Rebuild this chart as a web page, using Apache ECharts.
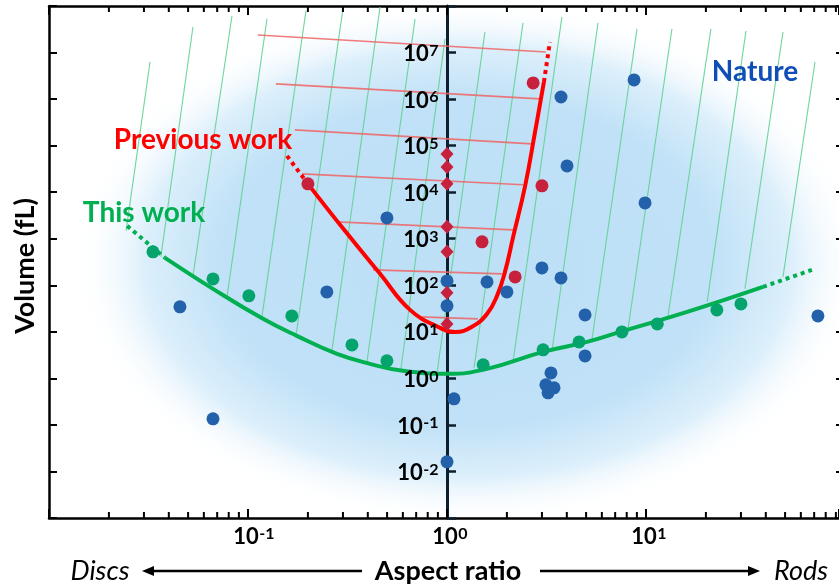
<!DOCTYPE html>
<html><head><meta charset="utf-8">
<script src="https://cdn.jsdelivr.net/npm/echarts@6/dist/echarts.min.js"></script>
<style>html,body{margin:0;padding:0;background:#fff}#c{width:839px;height:586px}</style>
</head><body><div id="c"></div>
<script>
// ---------- data (aspect ratio, volume fL) ----------
const natureX = [0.0455, 0.0667, 0.249, 0.499, 1.0, 1.0, 1.0, 1.084, 1.589, 2.0, 3.0, 3.74, 3.74, 4.01, 8.71, 9.89, 4.94, 4.94, 3.33, 3.14, 3.45, 3.22, 73.1];
const natureY = [34.4, 0.135, 72.1, 2805, 124, 36.1, 0.0161, 0.363, 118, 72.1, 236, 144, 1.11e6, 3.67e4, 2.58e6, 5890, 23.1, 3.04, 1.31, 0.725, 0.625, 0.489, 22.0];

const prevDotX = [0.200, 1.50, 2.20, 3.0, 2.71];
const prevDotY = [1.51e4, 856, 151, 1.37e4, 2.23e6];
const prevDiamondX = [1, 1, 1, 1, 1, 1, 1];
const prevDiamondY = [6.65e4, 3.49e4, 1.51e4, 1800, 522, 68.7, 14.8];

const thisX = [0.0333, 0.0667, 0.101, 0.166, 0.333, 0.499, 1.52, 3.04, 4.61, 7.57, 11.4, 22.7, 30.0];
const thisY = [522, 137, 59.2, 22.0, 5.24, 2.38, 1.95, 4.10, 6.08, 9.97, 14.8, 29.6, 39.8];

const thisCurveX = [0.0383, 0.0667, 0.119, 0.176, 0.280, 0.410, 0.601, 1.01, 1.59, 3.04, 5.05, 7.40, 16.1, 38.7];
const thisCurveY = [388, 83.7, 19.0, 8.19, 3.36, 2.05, 1.45, 1.25, 1.60, 3.71, 6.08, 9.97, 26.8, 92.4];
const thisDotLX = [0.0247, 0.0383], thisDotLY = [1888, 388];
const thisDotRX = [38.7, 68.2], thisDotRY = [92.4, 214];

const prevCurveX = [0.200, 0.307, 0.461, 0.652, 0.922, 1.097, 1.336, 1.589, 1.784, 1.956, 2.15, 2.47, 2.77, 3.07];
const prevCurveY = [1.51e4, 1475, 176, 29.6, 12.2, 9.97, 12.8, 24.3, 59.2, 194, 1096, 1.37e4, 1.97e5, 2.34e6];
const prevDotLX = [0.157, 0.195], prevDotLY = [6.03e4, 1.75e4];
const prevDotTX = [3.07, 3.29], prevDotTY = [2.34e6, 1.69e7];

const redLineX0 = [0.112, 0.138, 0.172, 0.187, 0.280, 0.425, 0.731];
const redLineY0 = [2.39e7, 2.12e6, 2.18e5, 2.47e4, 2300, 214, 20.9];
const redLineX1 = [3.14, 2.93, 2.67, 2.41, 2.15, 1.89, 1.43];
const redLineY1 = [1.03e7, 1.01e6, 1.09e5, 1.44e4, 1549, 176, 19.0];

const hatchX0 = [0.0244, 0.0365, 0.0529, 0.0784, 0.1175, 0.1742, 0.264, 0.396, 0.587, 0.891, 1.367, 2.15, 3.37, 5.35, 8.12, 12.9, 20.3, 31.4, 48.8];
const hatchY0 = [1475, 408, 159, 56.4, 20.9, 8.19, 3.90, 2.26, 1.60, 1.31, 1.68, 2.38, 3.90, 6.71, 11.6, 22.0, 44.0, 83.7, 151];
const hatchX1 = [0.0322, 0.0529, 0.0831, 0.1246, 0.1956, 0.300, 0.461, 0.691, 0.977, 1.552, 2.41, 3.78, 5.74, 9.01, 13.5, 21.2, 31.8, 48.8, 70.7];
const hatchY1 = [6.30e6, 3.56e7, 6.13e7, 5.28e7, 7.85e7, 8.67e7, 9.57e7, 5.28e7, 1.96e7, 2.78e7, 4.33e7, 5.83e7, 4.33e7, 3.22e7, 3.22e7, 3.22e7, 2.92e7, 2.78e7, 6.30e6];

// axis ranges and tick labels (the right edge of the picture cuts the axis at ~93)
const xMin = 0.01, xMax = 93.3, yMin = 0.001, yMax = 1e8;
const xMinorTicks = [0.02,0.03,0.04,0.05,0.06,0.07,0.08,0.09,0.2,0.3,0.4,0.5,0.6,0.7,0.8,0.9,2,3,4,5,6,7,8,9,20,30,40,50,60,70,80,90];
const xTickLabels = [0.1, 1, 10];
const yTickLabels = [1e-2, 1e-1, 1, 10, 1e2, 1e3, 1e4, 1e5, 1e6, 1e7];

// ---------- helpers ----------
const zip = (xs, ys) => xs.map((x, i) => [x, ys[i]]);
const segs = (x0, y0, x1, y1) => x0.map((x, i) => ({coords: [[x, y0[i]], [x1[i], y1[i]]]}));
const FONT = 'Lato, "Open Sans", sans-serif';
const BASE_FONT = 'bold 22px Lato';
const SUP_FONT = 'bold 16px Lato';
const mctx = document.createElement('canvas').getContext('2d');
const measure = (t, f) => { mctx.font = f; return mctx.measureText(t).width; };
const expOf = v => String(Math.round(Math.log10(v)));
const border = {show: true, lineStyle: {color: '#000', width: 2.5}};

function labelTexts(cx, cy, v, mode) {
  const e = expOf(v);
  const wb = measure('10', BASE_FONT), ws = measure(e, SUP_FONT);
  let x0, yb, ys;
  if (mode === 'x') { x0 = cx - wb / 2 - 2; yb = cy + 19; ys = cy + 8; }
  else { x0 = cx - 9 - wb - ws; yb = cy + 1.5; ys = cy - 10; }
  return [
    {type: 'text', x: x0, y: yb, style: {text: '10', font: BASE_FONT, fill: '#000', textAlign: 'left', textVerticalAlign: 'middle'}},
    {type: 'text', x: x0 + wb + 0.5, y: ys, style: {text: e, font: SUP_FONT, fill: '#000', textAlign: 'left', textVerticalAlign: 'top'}}
  ];
}

const chart = echarts.init(document.getElementById('c'), null, {renderer: 'canvas'});
const option = {
  animation: false,
  backgroundColor: '#fff',
  grid: {left: 49, top: 6, right: 0, height: 512, containLabel: false},
  xAxis: [
    {type: 'log', logBase: 10, min: xMin, max: xMax, interval: 1, position: 'bottom', z: 0,
     axisLine: border, axisTick: {inside: true, length: 9, lineStyle: {color: '#000', width: 2}},
     axisLabel: {show: false}, splitLine: {show: false}, minorTick: {show: false}},
    {type: 'log', logBase: 10, min: xMin, max: xMax, interval: 1, position: 'top', z: 0,
     axisLine: border, axisTick: {inside: true, length: 9, lineStyle: {color: '#000', width: 2}},
     axisLabel: {show: false}, splitLine: {show: false}}
  ],
  yAxis: [
    {type: 'log', logBase: 10, min: yMin, max: yMax, interval: 1, position: 'left', z: 0,
     axisLine: border, axisTick: {inside: true, length: 8, lineStyle: {color: '#000', width: 2}},
     axisLabel: {show: false}, splitLine: {show: false}},
    {type: 'log', logBase: 10, min: yMin, max: yMax, interval: 1, position: 'right', z: 0,
     axisLine: {show: false}, axisTick: {inside: true, length: 3, lineStyle: {color: '#000', width: 2}},
     axisLabel: {show: false}, splitLine: {show: false}},
    {type: 'log', logBase: 10, min: yMin, max: yMax, interval: 1, position: 'left', offset: -398, z: 0,
     axisLine: {show: true, lineStyle: {color: '#0d1f2d', width: 3}},
     axisTick: {inside: true, length: 9, lineStyle: {color: '#0d1f2d', width: 2.5}},
     axisLabel: {show: false}, splitLine: {show: false}}
  ],
  graphic: [
    {type: 'circle', x: 468, y: 262, scaleX: 3.95, scaleY: 2.62, z: -10, silent: true,
     shape: {cx: 0, cy: 0, r: 100},
     style: {fill: {type: 'radial', x: 0.5, y: 0.5, r: 0.5, colorStops: [
       {offset: 0, color: '#bde0f7'}, {offset: 0.62, color: '#c0e1f7'},
       {offset: 0.82, color: '#dcEFfb'}, {offset: 1, color: 'rgba(255,255,255,0)'}]}}},
    {type: 'text', x: 203, y: 140, z: 50, style: {text: 'Previous work', fill: '#ff0000', font: 'bold 28px ' + FONT, textAlign: 'center', textVerticalAlign: 'middle'}},
    {type: 'text', x: 144, y: 213, z: 50, style: {text: 'This work', fill: '#00b050', font: 'bold 28px ' + FONT, textAlign: 'center', textVerticalAlign: 'middle'}},
    {type: 'text', x: 755, y: 72, z: 50, style: {text: 'Nature', fill: '#0f4fb5', font: 'bold 28px ' + FONT, textAlign: 'center', textVerticalAlign: 'middle'}},
    {type: 'text', x: 25, y: 266, rotation: Math.PI / 2, z: 50, style: {text: 'Volume (fL)', fill: '#000', font: 'bold 27px ' + FONT, textAlign: 'center', textVerticalAlign: 'middle'}},
    {type: 'text', x: 100, y: 571, z: 50, style: {text: 'Discs', fill: '#000', font: 'italic 27px ' + FONT, textAlign: 'center', textVerticalAlign: 'middle'}},
    {type: 'text', x: 448, y: 571, z: 50, style: {text: 'Aspect ratio', fill: '#000', font: 'bold 27px ' + FONT, textAlign: 'center', textVerticalAlign: 'middle'}},
    {type: 'text', x: 801, y: 571, z: 50, style: {text: 'Rods', fill: '#000', font: 'italic 27px ' + FONT, textAlign: 'center', textVerticalAlign: 'middle'}},
    {type: 'line', z: 50, shape: {x1: 150, y1: 571, x2: 362, y2: 571}, style: {stroke: '#000', lineWidth: 2.5}},
    {type: 'polygon', z: 50, shape: {points: [[142, 571], [154, 566], [154, 576]]}, style: {fill: '#000'}},
    {type: 'line', z: 50, shape: {x1: 540, y1: 571, x2: 752, y2: 571}, style: {stroke: '#000', lineWidth: 2.5}},
    {type: 'polygon', z: 50, shape: {points: [[760, 571], [748, 566], [748, 576]]}, style: {fill: '#000'}}
  ],
  series: [
    {type: 'lines', coordinateSystem: 'cartesian2d', silent: true, z: 2,
     data: segs(hatchX0, hatchY0, hatchX1, hatchY1),
     lineStyle: {color: '#62d193', width: 1.1, opacity: 0.9}},
    {type: 'lines', coordinateSystem: 'cartesian2d', silent: true, z: 3,
     data: segs(redLineX0, redLineY0, redLineX1, redLineY1),
     lineStyle: {color: '#ee6464', width: 1.6, opacity: 0.85}},
    {type: 'line', data: zip(thisCurveX, thisCurveY), smooth: 0.45, showSymbol: false, z: 4,
     lineStyle: {color: '#00b050', width: 4}},
    {type: 'line', data: zip(thisDotLX, thisDotLY), showSymbol: false, z: 4,
     lineStyle: {color: '#00b050', width: 4, type: [4, 4]}},
    {type: 'line', data: zip(thisDotRX, thisDotRY), showSymbol: false, z: 4,
     lineStyle: {color: '#00b050', width: 4, type: [4, 4]}},
    {type: 'line', data: zip(prevCurveX, prevCurveY), smooth: 0.45, showSymbol: false, z: 4,
     lineStyle: {color: '#ff0000', width: 4}},
    {type: 'line', data: zip(prevDotLX, prevDotLY), showSymbol: false, z: 4,
     lineStyle: {color: '#ff0000', width: 4, type: [4, 4]}},
    {type: 'line', data: zip(prevDotTX, prevDotTY), showSymbol: false, z: 4,
     lineStyle: {color: '#ff0000', width: 4, type: [4, 4]}},
    {type: 'scatter', data: zip(thisX, thisY), symbolSize: 13, z: 5, itemStyle: {color: '#05a46d', opacity: 1}},
    {type: 'scatter', data: zip(natureX, natureY), symbolSize: 13, z: 5, itemStyle: {color: '#2361ab', opacity: 1}},
    {type: 'scatter', data: zip(prevDotX, prevDotY), symbolSize: 13, z: 6, itemStyle: {color: '#c8213e', opacity: 1}},
    {type: 'scatter', data: zip(prevDiamondX, prevDiamondY), symbol: 'diamond', symbolSize: [13, 14], z: 7, itemStyle: {color: '#c8213e', opacity: 1}},
    // minor ticks on bottom / top x axes
    {type: 'custom', z: 10, silent: true, clip: false,
     data: xMinorTicks.map(v => [v, yMin]),
     renderItem: function (params, api) {
       const x = api.value(0);
       const b = api.coord([x, yMin]);
       const t = api.coord([x, yMax]);
       return {type: 'group', children: [
         {type: 'line', shape: {x1: b[0], y1: b[1], x2: b[0], y2: b[1] - 6}, style: {stroke: '#000', lineWidth: 2}},
         {type: 'line', shape: {x1: t[0], y1: t[1], x2: t[0], y2: t[1] + 6}, style: {stroke: '#000', lineWidth: 2}}
       ]};
     }},
    // x tick labels (10^n) below the bottom axis
    {type: 'custom', z: 12, silent: true, clip: false,
     data: xTickLabels.map(v => [v, yMin]),
     renderItem: function (params, api) {
       const p = api.coord([api.value(0), yMin]);
       return {type: 'group', children: labelTexts(p[0], p[1], api.value(0), 'x')};
     }},
    // y tick labels (10^n) beside the central axis at aspect ratio 1
    {type: 'custom', z: 12, silent: true, clip: false,
     data: yTickLabels.map(v => [1, v]),
     renderItem: function (params, api) {
       const p = api.coord([1, api.value(1)]);
       return {type: 'group', children: labelTexts(p[0], p[1], api.value(1), 'y')};
     }}
  ]
};
chart.setOption(option);
</script></body></html>
